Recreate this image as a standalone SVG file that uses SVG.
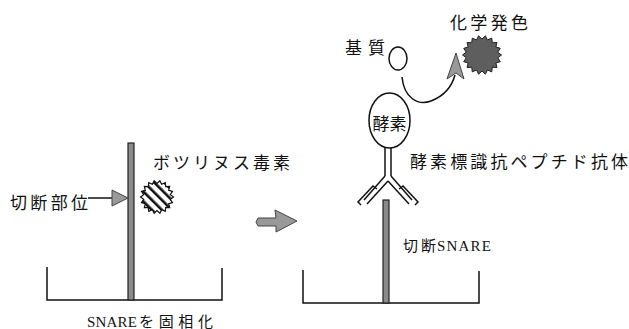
<svg xmlns="http://www.w3.org/2000/svg" width="629" height="329" viewBox="0 0 629 329">
  <style>
    .lbl { font-family: "Liberation Serif", "Noto Sans CJK JP", serif; fill: #111; }
    .big { font-size: 17px; }
    .sm { font-size: 15px; }
    .line { fill: none; stroke: #111; stroke-width: 1.5; }
    .bar { fill: #8a8a8a; stroke: #222; stroke-width: 1.2; }
    .gray { fill: #999; stroke: #444; stroke-width: 1; }
  </style>
  <defs>
    <pattern id="hatch" width="7" height="7" patternUnits="userSpaceOnUse" patternTransform="rotate(-45)">
      <rect width="7" height="7" fill="#fff"/>
      <rect x="0" y="0" width="2.6" height="7" fill="#111"/>
    </pattern>
  </defs>

  <!-- left well with immobilised SNARE -->
  <g id="well-left">
    <polyline class="line" points="47,267 47,300 222,300 222,268"/>
    <rect class="bar" x="128" y="143" width="6" height="157"/>
    <text class="lbl sm" y="327"><tspan x="87" textLength="50">SNARE</tspan><tspan x="139" textLength="74">を固相化</tspan></text>
  </g>

  <!-- cleavage site pointer -->
  <g id="cut-site">
    <text class="lbl big" x="10" y="209" textLength="78">切断部位</text>
    <line class="line" x1="88" y1="198" x2="113" y2="198"/>
    <polygon class="gray" points="112,190 112,206 128,198"/>
  </g>

  <!-- botulinum toxin: hatched spiky ball -->
  <g id="toxin">
    <polygon transform="translate(157,197)" fill="url(#hatch)" stroke="#111" stroke-width="1.2" points="16.5,0 13.29,2.34 15.51,5.64 11.69,6.75 12.64,10.61 8.68,10.34 8.25,14.29 4.62,12.69 2.86,16.25 0,13.5 -2.86,16.25 -4.62,12.69 -8.25,14.29 -8.68,10.34 -12.64,10.61 -11.69,6.75 -15.51,5.64 -13.29,2.34 -16.5,0 -13.29,-2.34 -15.51,-5.64 -11.69,-6.75 -12.64,-10.61 -8.68,-10.34 -8.25,-14.29 -4.62,-12.69 -2.86,-16.25 0,-13.5 2.86,-16.25 4.62,-12.69 8.25,-14.29 8.68,-10.34 12.64,-10.61 11.69,-6.75 15.51,-5.64 13.29,-2.34"/>
    <text class="lbl big" x="153" y="169" textLength="137">ボツリヌス毒素</text>
  </g>

  <!-- process arrow -->
  <g id="step-arrow">
    <polygon class="gray" points="258,218 276,218 275,210 297,221 276,232 276,226 258,226 256,222"/>
  </g>

  <!-- right well with cleaved SNARE -->
  <g id="well-right">
    <polyline class="line" points="303,270 303,303 479,303 479,271"/>
    <rect class="bar" x="383" y="200" width="6" height="103"/>
    <text class="lbl sm" y="251"><tspan x="403" textLength="33">切断</tspan><tspan x="437" textLength="54">SNARE</tspan></text>
  </g>

  <!-- enzyme-labelled antibody -->
  <g id="antibody">
    <ellipse class="line" cx="389.5" cy="120.5" rx="20.5" ry="27.5" fill="#fff"/>
    <text class="lbl big" x="389.5" y="130" text-anchor="middle">酵素</text>
    <line class="line" x1="385" y1="148" x2="385" y2="176"/>
    <line class="line" x1="391" y1="148" x2="391" y2="176"/>
    <line class="line" x1="385" y1="176" x2="364" y2="200"/>
    <line class="line" x1="388" y1="181" x2="367" y2="204"/>
    <line class="line" x1="391" y1="176" x2="412" y2="200"/>
    <line class="line" x1="388" y1="181" x2="409" y2="204"/>
    <polyline class="line" points="377,189 373,186 358,202 361,205"/>
    <polyline class="line" points="399,189 403,186 418,202 415,205"/>
    <text class="lbl big" x="410" y="168" textLength="218">酵素標識抗ペプチド抗体</text>
  </g>

  <!-- substrate -->
  <g id="substrate">
    <ellipse class="line" cx="398" cy="58.5" rx="9" ry="11.5" fill="#fff"/>
    <text class="lbl big" x="345" y="54" textLength="40">基質</text>
  </g>

  <!-- colour development: dark spiky ball -->
  <g id="colour">
    <polygon transform="translate(482,55)" fill="#5e5e5e" stroke="#222" stroke-width="1" points="19.5,0 15.76,2.78 18.32,6.67 13.86,8 14.94,12.53 10.28,12.26 9.75,16.89 5.47,15.04 3.39,19.2 0,16 -3.39,19.2 -5.47,15.04 -9.75,16.89 -10.28,12.26 -14.94,12.53 -13.86,8 -18.32,6.67 -15.76,2.78 -19.5,0 -15.76,-2.78 -18.32,-6.67 -13.86,-8 -14.94,-12.53 -10.28,-12.26 -9.75,-16.89 -5.47,-15.04 -3.39,-19.2 0,-16 3.39,-19.2 5.47,-15.04 9.75,-16.89 10.28,-12.26 14.94,-12.53 13.86,-8 18.32,-6.67 15.76,-2.78"/>
    <text class="lbl big" x="450" y="29" textLength="78">化学発色</text>
  </g>

  <!-- reaction connector -->
  <g id="connectors">
    <path class="line" d="M402,77 C404,98 418,106 431,101 C444,96 452,86 455,75"/>
    <polygon class="gray" points="456,53 447,79 456,73 464,79"/>
  </g>
</svg>
